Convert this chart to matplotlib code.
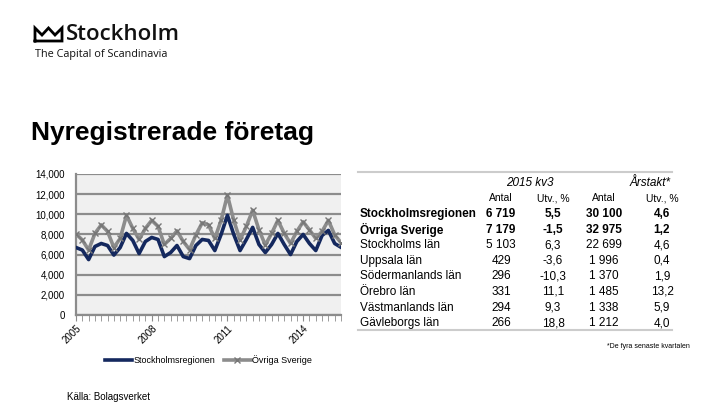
import matplotlib
matplotlib.use("Agg")
import matplotlib.pyplot as plt
from matplotlib.lines import Line2D
from matplotlib.ticker import FuncFormatter, MultipleLocator

plt.rcParams["font.family"] = ["Liberation Sans", "DejaVu Sans"]

# quarterly data 2005 Q1 - 2015 Q3
stockholm = [6700, 6450, 5500, 6800, 7100, 6900, 5950, 6700, 8100, 7400, 6100, 7300,
             7700, 7500, 5800, 6200, 6900, 5800, 5600, 6900, 7500, 7400, 6400, 8000,
             9900, 8000, 6400, 7500, 8700, 7000, 6200, 7000, 8100, 7000, 6000, 7300,
             8000, 7100, 6400, 7900, 8400, 7100, 6719]
ovriga = [8050, 7450, 6450, 8100, 8950, 8300, 6700, 7600, 9900, 8600, 7500, 8600,
          9400, 8800, 7000, 7600, 8350, 7300, 6500, 7950, 9150, 8950, 7600, 9400,
          11900, 9400, 7450, 8800, 10400, 8450, 6950, 8100, 9400, 8100, 7100, 8300,
          9250, 8450, 7600, 8300, 9400, 7950, 7179]
year_labels = ["2005", "2008", "2011", "2014"]

row_names = ["Stockholmsregionen", "Övriga Sverige", "Stockholms län", "Uppsala län",
             "Södermanlands län", "Örebro län", "Västmanlands län", "Gävleborgs län"]
kv_antal = ["6 719", "7 179", "5 103", "429", "296", "331", "294", "266"]
kv_utv = ["5,5", "-1,5", "6,3", "-3,6", "-10,3", "11,1", "9,3", "18,8"]
ar_antal = ["30 100", "32 975", "22 699", "1 996", "1 370", "1 485", "1 338", "1 212"]
ar_utv = ["4,6", "1,2", "4,6", "0,4", "1,9", "13,2", "5,9", "4,0"]

W, H = 720, 405


def fx(x):
    return x / W


def fy(y):
    return 1 - y / H


fig = plt.figure(figsize=(7.2, 4.05), dpi=100)

# logo
crown = [(35, 41), (35, 28), (42, 35), (48.5, 28), (55, 35), (62, 28), (62, 41), (35, 41)]
fig.add_artist(Line2D([fx(p[0]) for p in crown], [fy(p[1]) for p in crown],
                      color="black", lw=2.0, solid_joinstyle="miter"))
fig.text(fx(66), fy(35), "Stockholm", fontsize=16, family="Open Sans", fontweight="semibold",
         va="center", ha="left", color="#111111")
fig.text(fx(35), fy(55), "The Capital of Scandinavia", fontsize=7.8, family="Open Sans",
         va="center", ha="left", color="#111111")

fig.text(fx(31), fy(133), "Nyregistrerade företag", fontsize=19, fontweight="bold",
         va="center", ha="left")

# chart
ax = fig.add_axes([fx(76), fy(315), fx(341) - fx(76), fy(174) - fy(315)])
ax.set_facecolor("#f0f0f0")
x = list(range(len(stockholm)))
ax.plot(x, stockholm, color="#14285e", lw=2.6, label="Stockholmsregionen", zorder=3)
ax.plot(x, ovriga, color="#8c8c8c", lw=2.6, marker="x", ms=4, mec="#777777",
        label="Övriga Sverige", zorder=3)
ax.set_xlim(0, len(x) - 1)
ax.set_ylim(0, 14000)
ax.yaxis.set_major_locator(MultipleLocator(2000))
ax.yaxis.set_major_formatter(FuncFormatter(lambda v, p: f"{int(v):,}"))
ax.set_xticks([0, 12, 24, 36])
ax.set_xticklabels(year_labels, rotation=45, ha="right", rotation_mode="anchor")
ax.set_xticks(x, minor=True)
ax.grid(axis="y", color="#8c8c8c", lw=1.6, zorder=1)
for s in ["top", "right"]:
    ax.spines[s].set_visible(False)
ax.spines["left"].set_color("#8c8c8c")
ax.spines["left"].set_linewidth(1.6)
ax.spines["bottom"].set_color("#8c8c8c")
ax.spines["bottom"].set_linewidth(1.6)
ax.tick_params(axis="y", length=0, labelsize=7, pad=8)
ax.tick_params(axis="x", which="both", length=4, color="#8c8c8c", labelsize=7, pad=2)
ax.legend(loc="upper center", bbox_to_anchor=(0.5, -0.23), ncol=2, frameon=False,
          fontsize=6.5, handlelength=3, handletextpad=0.1, columnspacing=1.0)

fig.text(fx(67), fy(397), "Källa: Bolagsverket", fontsize=7, va="center", ha="left")

# table
fig.add_artist(Line2D([fx(358), fx(672)], [fy(172), fy(172)], color="#cccccc", lw=1.5))
fig.add_artist(Line2D([fx(358), fx(672)], [fy(330), fy(330)], color="#cccccc", lw=1.5))
fig.text(fx(530), fy(183), "2015 kv3", fontsize=8.5, style="italic", ha="center", va="center")
fig.text(fx(650), fy(183), "Årstakt*", fontsize=8.5, style="italic", ha="center", va="center")
col_x = [501, 553, 604, 662]
for cx, lab in zip(col_x, ["Antal", "Utv., %", "Antal", "Utv., %"]):
    fig.text(fx(cx), fy(198), lab, fontsize=7.5, ha="center", va="center")
row_y0, row_step = 214, 15.6
for i, name in enumerate(row_names):
    y = row_y0 + i * row_step
    weight = "bold" if i < 2 else "normal"
    fig.text(fx(360), fy(y), name, fontsize=8.5, fontweight=weight, ha="left", va="center")
    for cx, vals in zip(col_x, [kv_antal, kv_utv, ar_antal, ar_utv]):
        fig.text(fx(cx), fy(y), vals[i], fontsize=8.5, fontweight=weight,
                 ha="center", va="center")
fig.text(fx(690), fy(346), "*De fyra senaste kvartalen", fontsize=5, ha="right", va="center")

fig.savefig("out.png", dpi=100)
